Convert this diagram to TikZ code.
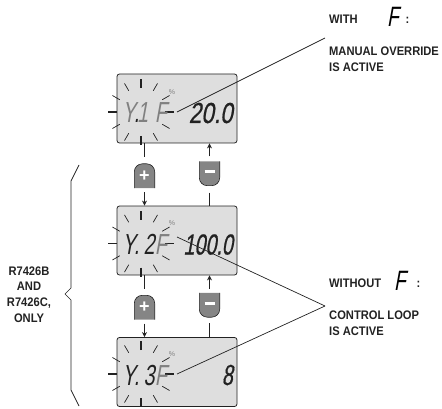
\documentclass[tikz,border=0pt]{standalone}
\usepackage{fontspec}
\setmainfont{Liberation Sans}
\newfontfamily\lcdfont[FakeStretch=0.68,FakeSlant=0.18]{Liberation Sans}
\newfontfamily\lcdheavy[FakeStretch=0.68,FakeSlant=0.18,FakeBold=0.6]{Liberation Sans}
\newfontfamily\lcdwide[FakeStretch=0.78,FakeSlant=0.18,FakeBold=0.6]{Liberation Sans}
\newfontfamily\notefont[FakeStretch=0.9]{Liberation Sans}
\usetikzlibrary{backgrounds}
\usetikzlibrary{arrows.meta}
\definecolor{lcdgray}{HTML}{DEDEDE}
\definecolor{keygray}{HTML}{858585}
\definecolor{inkgray}{HTML}{222222}
\tikzset{lcd/.style={rectangle,rounded corners=2.5pt,fill=lcdgray,draw=inkgray,line width=0.8pt,minimum width=120pt,minimum height=69pt,inner sep=0pt}}
\tikzset{lcdtext/.style={inner sep=0pt,anchor=base,text=#1,font=\lcdfont\fontsize{29}{29}\selectfont}}
\tikzset{lcdvalue/.style={inner sep=0pt,anchor=base east,text=inkgray,font=\lcdheavy\fontsize{29}{29}\selectfont}}
\tikzset{keybox/.style={rectangle,minimum width=20pt,minimum height=24pt,inner sep=0pt,text=white,font=\bfseries\fontsize{18}{18}\selectfont}}
\tikzset{note/.style={inner sep=0pt,anchor=base west,text=inkgray,font=\notefont\bfseries\fontsize{12.4}{12.4}\selectfont}}
\tikzset{wire/.style={line width=1.1pt,draw=inkgray}}
\tikzset{lead/.style={line width=0.7pt,draw=inkgray}}
\tikzset{tip/.style={-{Stealth[length=5pt,width=5pt]}}}

\begin{document}
\begin{tikzpicture}[x=1pt,y=-1pt]
\useasboundingbox (0,0) rectangle (442,409);
% displays
\node[lcd] (lcda) at (177,108.5) {};
\node[lcd] (lcdb) at (177,240.5) {};
\node[lcd] (lcdc) at (177,372) {};
% blinking rays round each symbol
\foreach \name/\cy in {a/112,b/243.5,c/374}{
 \coordinate (sun\name) at (141,\cy);
 \foreach \ang in {0,30,...,330}
  \draw[lead] (sun\name) ++(\ang:24.5) -- ++(\ang:8.5);
 \draw[wire] (sun\name) ++(180:24) -- ++(180:9);
 \draw[wire] (sun\name) ++(0:24) -- ++(0:9);
 \draw[wire] (sun\name) ++(90:24) -- ++(90:9);
 \draw[wire] (sun\name) ++(270:24) -- ++(270:9);
 \node[inner sep=0pt,text=gray,font=\fontsize{7}{7}\selectfont] (pct\name) at (172,\cy-20) {\%};
}
% symbols
\foreach \name/\base/\digit/\shade/\spot in {a/123/1/gray/142.5,b/254.5/2/inkgray/149,c/385/3/inkgray/149}{
 \node[lcdtext=\shade] (y\name) at (129,\base) {Y};
 \node[lcdtext=inkgray] (dot\name) at (136.5,\base) {.};
 \node[lcdtext=\shade] (dig\name) at (\spot,\base) {\digit};
 \node[lcdtext=gray] (f\name) at (161,\base) {F};
}
\node[lcdvalue,font=\lcdwide\fontsize{29}{29}\selectfont] (vala) at (233,123) {20.0};
\node[lcdvalue] (valb) at (233,254.5) {100.0};
\node[lcdvalue] (valc) at (233,385) {8};
% keys
\node[keybox] (plusa) at (144.5,176) {+};
\node[keybox] (minusa) at (209.5,173.5) {\rule[0.2em]{10pt}{3pt}};
\node[keybox] (plusb) at (144.5,307.5) {+};
\node[keybox] (minusb) at (209.5,305) {\rule[0.2em]{10pt}{3pt}};
\begin{scope}[on background layer]
\foreach \key in {plusa,plusb}
 \draw[fill=keygray,draw=inkgray,line width=0.6pt] (\key.south west) [rounded corners=8pt] -- (\key.north west) -- (\key.north east) [sharp corners] -- (\key.south east);
\foreach \key in {minusa,minusb}
 \draw[fill=keygray,draw=inkgray,line width=0.6pt] (\key.north west) [rounded corners=8pt] -- (\key.south west) -- (\key.south east) [sharp corners] -- (\key.north east);
\end{scope}
% connectors between displays and keys
\draw[wire,shorten >=7pt] (lcda.south -| plusa) -- (plusa.north);
\draw[wire,tip,shorten <=4pt] (plusa.south) -- (lcdb.north -| plusa);
\draw[wire,tip,shorten <=5pt] (minusa.north) -- (lcda.south -| minusa);
\draw[wire,shorten <=7pt] (minusa.south) -- (lcdb.north -| minusa);
\draw[wire,shorten >=6pt] (lcdb.south -| plusb) -- (plusb.north);
\draw[wire,tip,shorten <=4pt] (plusb.south) -- (lcdc.north -| plusb);
\draw[wire,tip,shorten <=4pt] (minusb.north) -- (lcdb.south -| minusb);
\draw[wire,shorten <=6pt] (minusb.south) -- (lcdc.north -| minusb);
% notes
\node[note] (witha) at (329,24) {WITH};
\node[lcdtext=black,font=\lcdfont\fontsize{28}{28}\selectfont] (fwith) at (393,27) {F};
\node[note] (cola) at (405.5,24) {:};
\node[note] (nota) at (329,56) {MANUAL OVERRIDE};
\node[note] (notb) at (329,72) {IS ACTIVE};
\node[note] (withb) at (329,287) {WITHOUT};
\node[lcdtext=black,font=\lcdfont\fontsize{28}{28}\selectfont] (fwithout) at (400,290) {F};
\node[note] (colb) at (416.5,287) {:};
\node[note] (notc) at (329,319) {CONTROL LOOP};
\node[note] (notd) at (329,335) {IS ACTIVE};
\coordinate (leadtop) at (325,38);
\coordinate (leadlow) at (325,306);
\coordinate (froma) at (177,112);
\coordinate (fromb) at (177,237);
\coordinate (fromc) at (177,374);
\draw[lead] (froma) -- (leadtop);
\draw[lead] (fromb) -- (leadlow);
\draw[lead] (fromc) -- (leadlow);
% brace
\coordinate (bracea) at (79,165);
\coordinate (braceb) at (65,294);
\coordinate (bracec) at (79,406);
\draw[lead] (bracea) -- (71,181) -- (71,288) -- (braceb) -- (71,300) -- (71,390) -- (bracec);
\node[note,anchor=base] (onlya) at (29,275) {R7426B};
\node[note,anchor=base] (onlyb) at (29,290) {AND};
\node[note,anchor=base] (onlyc) at (29,306) {R7426C,};
\node[note,anchor=base] (onlyd) at (29,322) {ONLY};
\end{tikzpicture}
\end{document}
